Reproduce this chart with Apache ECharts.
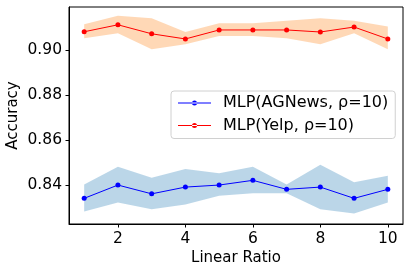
<!DOCTYPE html>
<html>
<head>
<meta charset="utf-8">
<script src="https://cdn.jsdelivr.net/npm/echarts@6/dist/echarts.min.js"></script>
<style>html,body{margin:0;padding:0;background:#fff;}#c{width:410px;height:272px;}</style>
</head>
<body>
<div id="c"></div>
<script>
const ratios = [1, 2, 3, 4, 5, 6, 7, 8, 9, 10];
const xTicks = [2, 4, 6, 8, 10];
const yTicks = [0.84, 0.86, 0.88, 0.90];

const agnewsMean = [0.8341, 0.8400, 0.8361, 0.8391, 0.8400, 0.8421, 0.8381, 0.8391, 0.8341, 0.8381];
const agnewsUpper = [0.8403, 0.8481, 0.8432, 0.8471, 0.8452, 0.8481, 0.8403, 0.8490, 0.8412, 0.8441];
const agnewsLower = [0.8283, 0.8323, 0.8293, 0.8314, 0.8353, 0.8364, 0.8364, 0.8293, 0.8274, 0.8323];

const yelpMean = [0.9081, 0.9112, 0.9072, 0.9049, 0.9089, 0.9089, 0.9089, 0.9080, 0.9102, 0.9049];
const yelpUpper = [0.9114, 0.9152, 0.9141, 0.9080, 0.9119, 0.9119, 0.9130, 0.9141, 0.9130, 0.9104];
const yelpLower = [0.9052, 0.9074, 0.9003, 0.9025, 0.9062, 0.9062, 0.9052, 0.9025, 0.9074, 0.9003];

const FONT = 'DejaVu Sans';
const chart = echarts.init(document.getElementById('c'), null, {renderer: 'canvas'});

function band(name, upper, lower, color) {
  return {
    type: 'custom',
    name: name,
    silent: true,
    z: 1,
    data: [0],
    renderItem: function (params, api) {
      const pts = [];
      for (let i = 0; i < ratios.length; i++) pts.push(api.coord([ratios[i], upper[i]]));
      for (let i = ratios.length - 1; i >= 0; i--) pts.push(api.coord([ratios[i], lower[i]]));
      return {type: 'polygon', shape: {points: pts}, style: {fill: color}};
    }
  };
}

function line(name, vals, color) {
  return {
    type: 'line',
    name: name,
    z: 3,
    data: ratios.map((x, i) => [x, vals[i]]),
    symbol: 'circle',
    symbolSize: 5,
    showSymbol: true,
    lineStyle: {color: color, width: 1},
    itemStyle: {color: color},
    animation: false
  };
}

const iconPath = 'path://M0,3.5h33v1h-33z M14,4a2.5,2.5 0 1 0 5,0a2.5,2.5 0 1 0 -5,0z';

chart.setOption({
  animation: false,
  grid: {left: 69, right: 7, top: 7, bottom: 48, show: true, borderColor: '#000', borderWidth: 1,
    backgroundColor: 'transparent', containLabel: false, outerBoundsMode: 'none'},
  legend: {
    left: 171, top: 91,
    orient: 'vertical',
    itemWidth: 33, itemHeight: 8, itemGap: 6.5,
    padding: [4, 7, 5, 7],
    borderColor: '#d0d0d0', borderWidth: 1, borderRadius: 3,
    backgroundColor: 'rgba(255,255,255,0.8)',
    formatter: n => '{a|' + n + '}',
    textStyle: {fontFamily: FONT, fontSize: 16, color: '#000', lineHeight: 16,
      rich: {a: {fontFamily: FONT, fontSize: 16, color: '#000', lineHeight: 16, padding: [0, 0, 0, 7]}}},
    data: [
      {name: 'MLP(AGNews, ρ=10)', icon: iconPath},
      {name: 'MLP(Yelp, ρ=10)', icon: iconPath}
    ]
  },
  xAxis: {
    type: 'value', min: 0.55, max: 10.45,
    name: 'Linear Ratio', nameLocation: 'middle', nameGap: 27, nameMoveOverlap: false,
    nameTextStyle: {fontFamily: FONT, fontSize: 15, color: '#000'},
    axisLine: {show: true, lineStyle: {color: '#000', width: 1}},
    axisTick: {show: true, length: 3.5, lineStyle: {color: '#000'}, customValues: xTicks},
    axisLabel: {fontFamily: FONT, fontSize: 15.5, color: '#000', margin: 7, customValues: xTicks},
    splitLine: {show: false}
  },
  yAxis: {
    type: 'value', min: 0.8227, max: 0.9191,
    name: 'Accuracy', nameLocation: 'middle', nameGap: 48, nameRotate: 90, nameMoveOverlap: false,
    nameTextStyle: {fontFamily: FONT, fontSize: 15, color: '#000'},
    axisLine: {show: true, lineStyle: {color: '#000', width: 1}},
    axisTick: {show: true, length: 3.5, lineStyle: {color: '#000'}, customValues: yTicks},
    axisLabel: {fontFamily: FONT, fontSize: 15.5, color: '#000', margin: 7, customValues: yTicks,
      formatter: v => v.toFixed(2)},
    splitLine: {show: false}
  },
  series: [
    band('agnewsBand', agnewsUpper, agnewsLower, 'rgba(31,119,180,0.3)'),
    band('yelpBand', yelpUpper, yelpLower, 'rgba(255,127,14,0.3)'),
    line('MLP(AGNews, ρ=10)', agnewsMean, '#0000ff'),
    line('MLP(Yelp, ρ=10)', yelpMean, '#ff0000')
  ]
});
</script>
</body>
</html>
